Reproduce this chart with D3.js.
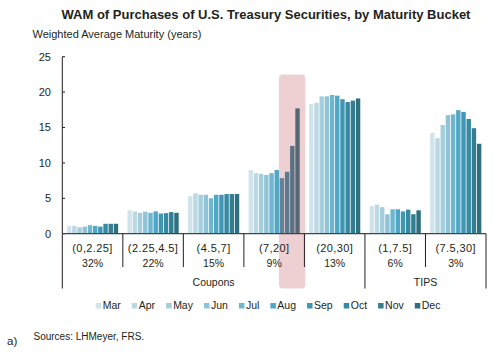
<!DOCTYPE html>
<html><head><meta charset="utf-8">
<script src="https://cdn.jsdelivr.net/npm/d3@7"></script>
<style>body{margin:0;background:#fff}svg{display:block;font-family:"Liberation Sans",Arial,sans-serif}</style>
</head><body><svg id="c" width="501" height="355"></svg>
<script>
const buckets = ["(0,2.25]","(2.25,4.5]","(4.5,7]","(7,20]","(20,30]","(1,7.5]","(7.5,30]"];
const shares = ["32%","22%","15%","9%","13%","6%","3%"];
const groups = [{name:"Coupons", from:0, to:4},{name:"TIPS", from:5, to:6}];
const months = ["Mar","Apr","May","Jun","Jul","Aug","Sep","Oct","Nov","Dec"];
const colors = ["#d2e4eb","#bcd9e3","#a5cedc","#8fc3d5","#6eb6cf","#4ea7c4","#4196b3","#368aa2","#337e91","#2e6f80"];
const values = [
  [1.1,1.1,0.9,1.0,1.2,1.1,1.0,1.4,1.4,1.4],
  [3.3,3.15,2.95,3.1,2.95,3.15,2.85,2.9,3.05,2.95],
  [5.3,5.7,5.5,5.5,5.0,5.5,5.5,5.6,5.6,5.6],
  [9.0,8.55,8.45,8.3,8.55,9.0,7.85,8.75,12.4,17.7],
  [18.3,18.5,19.4,19.4,19.6,19.5,19.0,18.6,18.8,19.1],
  [3.9,4.1,3.75,2.75,3.45,3.45,3.15,3.4,2.75,3.3],
  [14.25,13.5,15.35,16.75,16.85,17.45,17.2,16.2,14.9,12.7]
];
const yTicks = [0,5,10,15,20,25];
const title = "WAM of Purchases of U.S. Treasury Securities, by Maturity Bucket";
const subtitle = "Weighted Average Maturity (years)";
const source = "Sources: LHMeyer, FRS.";

const svg = d3.select("#c");
const x0 = d3.scaleBand().domain(buckets).range([62.3, 486]).padding(0);
const x1 = d3.scaleBand().domain(months).range([0, x0.bandwidth()]).paddingInner(0.15).paddingOuter(0.9);
const y = d3.scaleLinear().domain([0,25]).range([233.7, 56.7]);
const ink = "#231f20";
const boxBottom = 288.5, innerBottom = 267;

svg.append("text").attr("x",266).attr("y",18.5).attr("text-anchor","middle")
  .attr("font-weight","bold").attr("font-size",13).attr("fill",ink).text(title);
svg.append("text").attr("x",32.5).attr("y",38).attr("font-size",11).attr("fill",ink).text(subtitle);

// bars
const g = svg.append("g");
buckets.forEach((b,i)=>{
  g.selectAll(null).data(values[i].map((v,j)=>({v,m:months[j],c:colors[j]}))).enter()
   .append("rect")
   .attr("x",d=>x0(b)+x1(d.m)).attr("width",x1.bandwidth())
   .attr("y",d=>y(d.v)).attr("height",d=>y(0)-y(d.v)).attr("fill",d=>d.c);
});

// highlight
const hx = x0("(7,20]") + x1("Sep") - 0.8;
const hx2 = x0("(7,20]") + x0.bandwidth() + 1;
svg.append("rect").attr("x",hx).attr("y",y(22.5)).attr("width",hx2-hx).attr("height",boxBottom-y(22.5))
  .attr("rx",4).attr("fill","rgb(192,80,87)").attr("fill-opacity",0.27);

// y axis
const ya = svg.append("g").attr("stroke",ink).attr("stroke-width",1);
ya.append("line").attr("x1",62.3).attr("x2",62.3).attr("y1",y(25)).attr("y2",boxBottom);
yTicks.forEach(t=>{
  ya.append("line").attr("x1",62.3).attr("x2",65).attr("y1",y(t)).attr("y2",y(t));
  svg.append("text").attr("x",51).attr("y",y(t)).attr("dy","0.35em").attr("text-anchor","end")
    .attr("font-size",11).attr("fill",ink).text(t);
});
// x axis
ya.append("line").attr("x1",62.3).attr("x2",486).attr("y1",y(0)).attr("y2",y(0)).attr("stroke","#444").attr("stroke-width",1.3);
buckets.forEach((b,i)=>{
  const xb = x0(b)+x0.bandwidth();
  const major = groups.some(gr=>gr.to===i);
  ya.append("line").attr("x1",xb).attr("x2",xb).attr("y1",y(0)).attr("y2",major?boxBottom:innerBottom);
  const cx = x0(b)+x0.bandwidth()/2;
  svg.append("text").attr("x",cx).attr("y",252).attr("text-anchor","middle").attr("font-size",11).attr("letter-spacing",0.4).attr("fill",ink).text(b);
  svg.append("text").attr("x",cx).attr("y",266.5).attr("text-anchor","middle").attr("font-size",10.5).attr("fill",ink).text(shares[i]);
});
groups.forEach(gr=>{
  const cx = (x0(buckets[gr.from]) + x0(buckets[gr.to]) + x0.bandwidth())/2;
  svg.append("text").attr("x",cx).attr("y",285.5).attr("text-anchor","middle").attr("font-size",10.5).attr("fill",ink).text(gr.name);
});

// legend
let lx = 95.7;
const lg = svg.append("g");
months.forEach((m,j)=>{
  lg.append("rect").attr("x",lx).attr("y",303).attr("width",5.5).attr("height",5.5).attr("fill",colors[j]);
  const t = lg.append("text").attr("x",lx+7).attr("y",305.8).attr("dy","0.35em").attr("font-size",10.5).attr("fill",ink).text(m);
  lx += 7 + t.node().getComputedTextLength() + 11;
});

svg.append("text").attr("x",7).attr("y",345).attr("font-size",11.5).attr("fill",ink).text("a)");
svg.append("text").attr("x",33.5).attr("y",340).attr("font-size",10).attr("fill",ink).text(source);
</script></body></html>
